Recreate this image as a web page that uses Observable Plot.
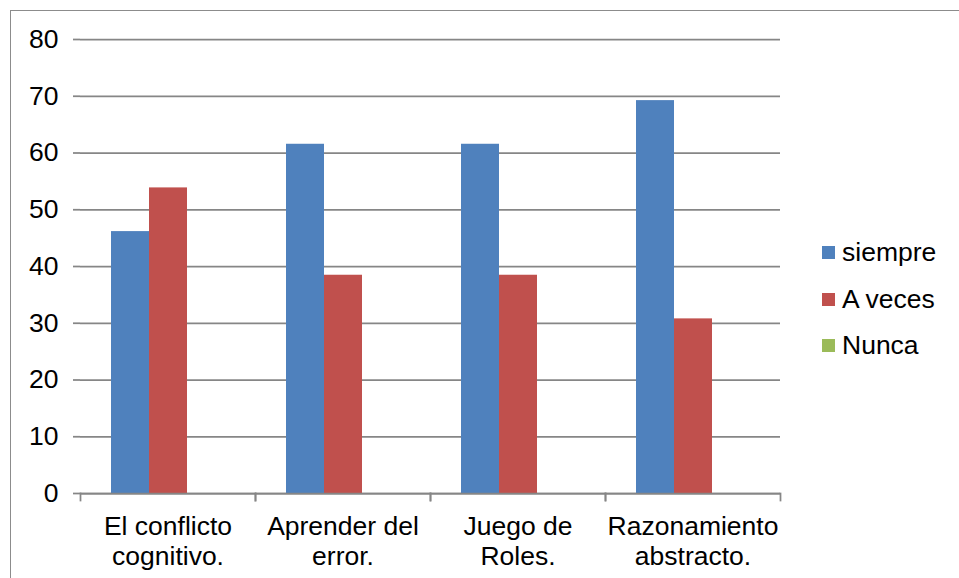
<!DOCTYPE html>
<html><head><meta charset="utf-8">
<script src="https://cdn.jsdelivr.net/npm/d3@7"></script>
<script src="https://cdn.jsdelivr.net/npm/@observablehq/plot@0.6"></script>
<style>
body{margin:0;background:#fff;font-family:Arial,"Liberation Sans",sans-serif}
#wrap{position:relative;width:959px;height:578px;overflow:hidden;background:#fff}
#border{position:absolute;left:10px;top:10px;width:960px;height:580px;border-top:1.5px solid #8c8c8c;border-left:1.5px solid #8c8c8c}
#chart{position:absolute;left:0;top:0}
#legend{position:absolute;left:822px;top:229px;font-size:26.5px;color:#000}
.item{height:46.7px;display:flex;align-items:center}
.sw{width:13px;height:13px;margin-right:7px;flex:none}
</style>
</head><body>
<div id="wrap"><div id="border"></div><div id="chart"></div><div id="legend"></div></div>
<script>
const categories = ["El conflicto\ncognitivo.", "Aprender del\nerror.", "Juego de\nRoles.", "Razonamiento\nabstracto."];
const series = ["siempre", "A veces", "Nunca"];
const siempre = [46.15, 61.54, 61.54, 69.23];
const aVeces = [53.85, 38.46, 38.46, 30.77];
const nunca = [0, 0, 0, 0];
const yTicks = [0, 10, 20, 30, 40, 50, 60, 70, 80];
const colors = ["#4F81BD", "#C0504D", "#9BBB59"];

const valuesBySeries = [siempre, aVeces, nunca];
const table = [];
categories.forEach((c, i) => series.forEach((s, j) => table.push({cat: c, series: s, value: valuesBySeries[j][i]})));

const grey = "#868686";
const chart = Plot.plot({
  width: 959, height: 578,
  marginLeft: 80, marginRight: 179, marginTop: 39, marginBottom: 85,
  style: {fontFamily: "Arial, 'Liberation Sans', sans-serif", fontSize: "26.5px", color: "#000", background: "transparent"},
  fx: {domain: categories, padding: 0, label: null},
  x: {domain: series, paddingInner: 0, paddingOuter: 0.78, axis: null},
  y: {domain: [0, 80], label: null},
  color: {domain: series, range: colors},
  marks: [
    Plot.gridY(yTicks, {stroke: grey, strokeOpacity: 1, strokeWidth: 1.75}),
    Plot.barY(table, {fx: "cat", x: "series", y: "value", fill: "series"}),
    Plot.axisY(yTicks, {tickSize: 7, tickPadding: 15, stroke: grey, strokeWidth: 1.75, line: true, label: null, fontSize: 26.5}),
    Plot.axisFx({anchor: "bottom", tickSize: 0, tickPadding: 20, lineHeight: 1.13, label: null, fontSize: 26.5}),
    Plot.ruleY([0], {stroke: grey, strokeWidth: 1.75}),
    Plot.frame({anchor: "left", insetTop: 454, insetBottom: -7, stroke: grey, strokeWidth: 1.75}),
    Plot.frame({anchor: "right", insetTop: 454, insetBottom: -7, stroke: grey, strokeWidth: 1.75})
  ]
});
document.getElementById("chart").appendChild(chart);

const legend = document.getElementById("legend");
series.forEach((s, j) => {
  const row = document.createElement("div");
  row.className = "item";
  row.innerHTML = `<span class="sw" style="background:${colors[j]}"></span><span>${s}</span>`;
  legend.appendChild(row);
});
</script>
</body></html>
